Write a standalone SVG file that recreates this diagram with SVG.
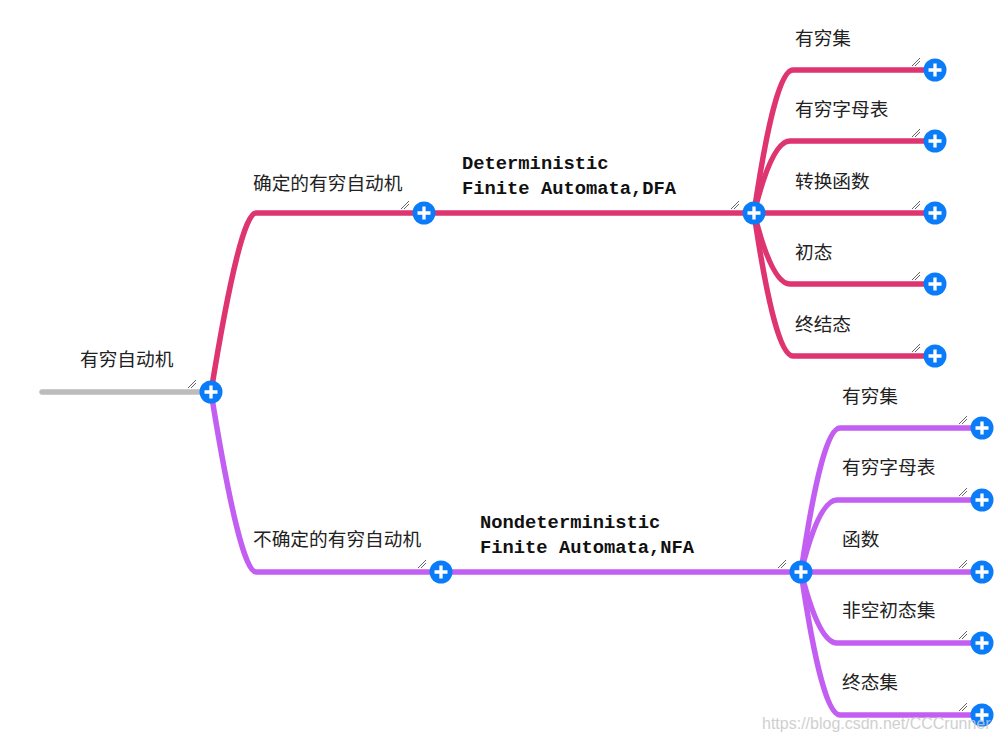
<svg xmlns="http://www.w3.org/2000/svg" xmlns:xlink="http://www.w3.org/1999/xlink" width="1001" height="744" viewBox="0 0 1001 744">
<style>
.cn{font-family:"Noto Sans CJK SC","Noto Sans CJK JP",sans-serif;font-size:18.7px;fill:#222}
.en{font-family:"Liberation Mono","Courier New",monospace;font-size:18.8px;font-weight:bold;fill:#111}
.red{fill:none;stroke:#de3470;stroke-width:5.5;stroke-linecap:round}
.pur{fill:none;stroke:#c35ef2;stroke-width:5.5;stroke-linecap:round}
.gray{fill:none;stroke:#bcbcbc;stroke-width:5.5;stroke-linecap:round}
.wm{font-family:"Liberation Sans",Arial,sans-serif;font-size:16px;fill:#c8c8c8;opacity:0.85}
</style>
<defs>
<g id="plus">
<circle r="11.5" fill="#0a7cfa"/>
<path d="M-6.5,0H6.5M0,-6.5V6.5" stroke="#fff" stroke-width="3.3"/>
</g>
<g id="grip" stroke="#555" stroke-width="0.9">
<path d="M-23,-4L-15,-12M-20,-4L-15,-9"/>
</g>
</defs>
<rect width="1001" height="744" fill="#fff"/>
<g id="connectors">
<path class="gray" d="M42,392H211"/>
<path class="red" d="M211,392Q240,213 256,213H424H754"/>
<path class="red" d="M754,213Q775,70 793,70H935"/>
<path class="red" d="M754,213Q772,141 790,141H935"/>
<path class="red" d="M754,213H935"/>
<path class="red" d="M754,213Q772,284 790,284H935"/>
<path class="red" d="M754,213Q775,356 793,356H935"/>
<path class="pur" d="M211,392Q240,572 256,572H441H801"/>
<path class="pur" d="M801,572Q822,428 840,428H982"/>
<path class="pur" d="M801,572Q819,500 837,500H982"/>
<path class="pur" d="M801,572H982"/>
<path class="pur" d="M801,572Q819,643 837,643H982"/>
<path class="pur" d="M801,572Q822,715 840,715H982"/>
</g>
<g id="root">
<text class="cn" x="80" y="366">有穷自动机</text>
<use xlink:href="#grip" x="211" y="392"/>
<use xlink:href="#plus" x="211" y="392"/>
</g>
<g id="dfa-cn">
<text class="cn" x="253" y="190">确定的有穷自动机</text>
<use xlink:href="#grip" x="424" y="213"/>
<use xlink:href="#plus" x="424" y="213"/>
</g>
<g id="dfa">
<text class="en" x="462" y="169">Deterministic</text>
<text class="en" x="462" y="194">Finite Automata,DFA</text>
<use xlink:href="#grip" x="754" y="213"/>
<use xlink:href="#plus" x="754" y="213"/>
</g>
<g id="dfa-1">
<text class="cn" x="795" y="45">有穷集</text>
<use xlink:href="#grip" x="935" y="70"/>
<use xlink:href="#plus" x="935" y="70"/>
</g>
<g id="dfa-2">
<text class="cn" x="795" y="116">有穷字母表</text>
<use xlink:href="#grip" x="935" y="141"/>
<use xlink:href="#plus" x="935" y="141"/>
</g>
<g id="dfa-3">
<text class="cn" x="795" y="188">转换函数</text>
<use xlink:href="#grip" x="935" y="213"/>
<use xlink:href="#plus" x="935" y="213"/>
</g>
<g id="dfa-4">
<text class="cn" x="795" y="259">初态</text>
<use xlink:href="#grip" x="935" y="284"/>
<use xlink:href="#plus" x="935" y="284"/>
</g>
<g id="dfa-5">
<text class="cn" x="795" y="331">终结态</text>
<use xlink:href="#grip" x="935" y="356"/>
<use xlink:href="#plus" x="935" y="356"/>
</g>
<g id="nfa-cn">
<text class="cn" x="253" y="546">不确定的有穷自动机</text>
<use xlink:href="#grip" x="441" y="572"/>
<use xlink:href="#plus" x="441" y="572"/>
</g>
<g id="nfa">
<text class="en" x="480" y="528">Nondeterministic</text>
<text class="en" x="480" y="553">Finite Automata,NFA</text>
<use xlink:href="#grip" x="801" y="572"/>
<use xlink:href="#plus" x="801" y="572"/>
</g>
<g id="nfa-1">
<text class="cn" x="842" y="403">有穷集</text>
<use xlink:href="#grip" x="982" y="428"/>
<use xlink:href="#plus" x="982" y="428"/>
</g>
<g id="nfa-2">
<text class="cn" x="842" y="474">有穷字母表</text>
<use xlink:href="#grip" x="982" y="500"/>
<use xlink:href="#plus" x="982" y="500"/>
</g>
<g id="nfa-3">
<text class="cn" x="842" y="546">函数</text>
<use xlink:href="#grip" x="982" y="572"/>
<use xlink:href="#plus" x="982" y="572"/>
</g>
<g id="nfa-4">
<text class="cn" x="842" y="617">非空初态集</text>
<use xlink:href="#grip" x="982" y="643"/>
<use xlink:href="#plus" x="982" y="643"/>
</g>
<g id="nfa-5">
<text class="cn" x="842" y="689">终态集</text>
<use xlink:href="#grip" x="982" y="715"/>
<use xlink:href="#plus" x="982" y="715"/>
</g>
<text class="wm" x="762" y="729">https://blog.csdn.net/CCCrunner</text>
</svg>
